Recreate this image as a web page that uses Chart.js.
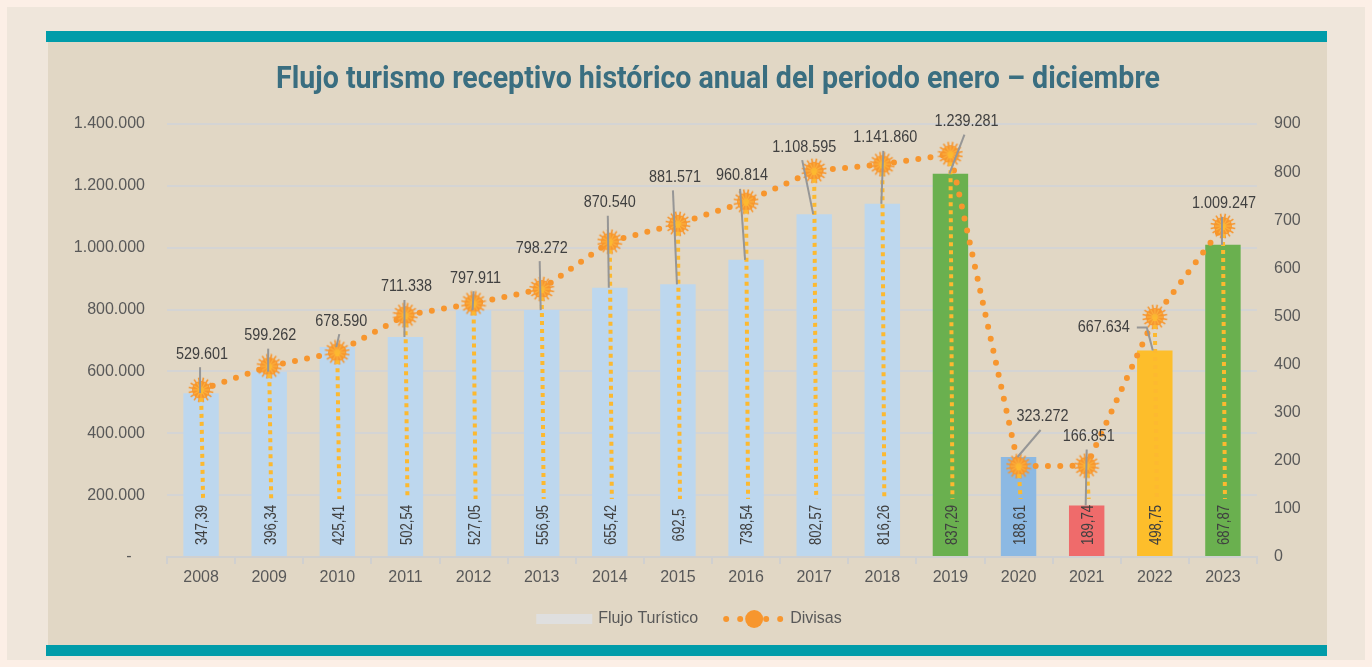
<!DOCTYPE html>
<html><head><meta charset="utf-8">
<script src="https://cdn.jsdelivr.net/npm/chart.js@4.4.1/dist/chart.umd.min.js"></script>
<style>html,body{margin:0;padding:0;background:#fcefe6;overflow:hidden}canvas{display:block}</style>
</head><body>
<canvas id="c" width="1372" height="667" style="width:1372px;height:667px"></canvas>
<script>
// ---- data ----
const years = ['2008','2009','2010','2011','2012','2013','2014','2015','2016','2017','2018','2019','2020','2021','2022','2023'];
const flujo = [529601, 599262, 678590, 711338, 797911, 798272, 870540, 881571, 960814, 1108595, 1141860, 1239281, 323272, 166851, 667634, 1009247];
const divisas = [347.39, 396.34, 425.41, 502.54, 527.05, 556.95, 655.42, 692.5, 738.54, 802.57, 816.26, 837.29, 188.61, 189.74, 498.75, 687.87];
const seriesNames = ['Flujo Turístico', 'Divisas'];
const chartTitle = 'Flujo turismo receptivo histórico anual del periodo enero – diciembre';

// ---- styles ----
const barColors = ['#bdd7ee','#bdd7ee','#bdd7ee','#bdd7ee','#bdd7ee','#bdd7ee','#bdd7ee','#bdd7ee','#bdd7ee','#bdd7ee','#bdd7ee','#6ab04f','#8cb9e3','#ef6b6b','#fdbe2b','#6ab04f'];
const labelOffsets = [[1,-39],[1,-36],[4,-26],[1,-50],[2,-32],[0,-62],[0,-85],[-3,-107],[-4,-84],[-10,-67],[3,-66],[16,-52],[24,-40],[2,-69],[-51,-23],[1,-41]];
const FONT = '"Liberation Sans", Arial, sans-serif';
const ORANGE = '#f7962e';

function fmtThousands(v){ return String(v).replace(/\B(?=(\d{3})+(?!\d))/g,'.'); }
function fmtDec(v){ return String(v).replace('.',','); }

function makeMarker(){
  const c = document.createElement('canvas'); c.width = 26; c.height = 26;
  const g = c.getContext('2d');
  g.translate(13,13);
  g.strokeStyle = ORANGE; g.lineWidth = 1.6;
  for (let i=0;i<16;i++){ const a=i*Math.PI/8+Math.PI/16; g.beginPath(); g.moveTo(0,0); g.lineTo(Math.cos(a)*12.5,Math.sin(a)*12.5); g.stroke(); }
  g.fillStyle = ORANGE; g.beginPath(); g.arc(0,0,9,0,Math.PI*2); g.fill();
  g.strokeStyle = '#fcb23e'; g.lineWidth = 1.2;
  for (let i=0;i<12;i++){ const a=i*Math.PI/6; g.beginPath(); g.moveTo(Math.cos(a)*2,Math.sin(a)*2); g.lineTo(Math.cos(a)*8,Math.sin(a)*8); g.stroke(); }
  g.fillStyle = '#fbb731'; g.beginPath(); g.arc(0,0,3,0,Math.PI*2); g.fill();
  return c;
}
const markerImg = makeMarker();

const deco = {
  id: 'deco',
  beforeDraw(chart){
    const ctx = chart.ctx; ctx.save();
    ctx.fillStyle = '#fcefe6'; ctx.fillRect(0,0,chart.width,chart.height);
    ctx.fillStyle = '#efe6db'; ctx.fillRect(7,7,chart.width-14,chart.height-14);
    ctx.fillStyle = '#e1d7c5'; ctx.fillRect(48,42,1279,603);
    ctx.fillStyle = '#009ca9'; ctx.fillRect(46,31,1281,11); ctx.fillRect(46,645,1281,11);
    ctx.restore();
  },
  afterDatasetsDraw(chart){
    const ctx = chart.ctx, x = chart.scales.x, y = chart.scales.y, y1 = chart.scales.y1;
    const base = y1.getPixelForValue(0);
    // Divisas leader lines and labels
    divisas.forEach((v,i)=>{
      const px = x.getPixelForValue(i), py = y1.getPixelForValue(v);
      const lx = px + 2, ly = base - 32;
      ctx.save();
      ctx.strokeStyle = '#fdb92f'; ctx.lineWidth = 4; ctx.setLineDash([4,4]);
      ctx.beginPath(); ctx.moveTo(px,py); ctx.lineTo(lx, ly-26); ctx.stroke();
      ctx.restore();
      ctx.save();
      ctx.translate(lx, ly); ctx.rotate(-Math.PI/2); ctx.scale(0.82,1);
      ctx.font = '16px ' + FONT; ctx.fillStyle = '#404040';
      ctx.textAlign = 'center'; ctx.textBaseline = 'middle';
      ctx.fillText(fmtDec(v), 0, 0);
      ctx.restore();
    });
    // Flujo labels with leader lines
    flujo.forEach((v,i)=>{
      const bx = x.getPixelForValue(i), by = y.getPixelForValue(v);
      const lx = bx + labelOffsets[i][0], ly = by + labelOffsets[i][1];
      const txt = fmtThousands(v);
      ctx.save();
      ctx.font = '16px ' + FONT;
      const w = ctx.measureText(txt).width * 0.9;
      ctx.strokeStyle = '#969696'; ctx.lineWidth = 2;
      if (Math.abs(labelOffsets[i][0]) > 30) {
        const sx = lx + w/2 + 7;
        ctx.beginPath(); ctx.moveTo(sx, ly); ctx.lineTo(bx-8, ly); ctx.lineTo(bx-2, by); ctx.stroke();
      } else if (by - (ly+13) > 6) {
        ctx.beginPath(); ctx.moveTo(lx-2, ly+13); ctx.lineTo(bx-1, by); ctx.stroke();
      }
      ctx.translate(lx, ly); ctx.scale(0.9,1);
      ctx.fillStyle = '#404040'; ctx.textAlign = 'center'; ctx.textBaseline = 'middle';
      ctx.fillText(txt, 0, 0);
      ctx.restore();
    });
  },
  afterDraw(chart){
    const ctx = chart.ctx;
    // title
    ctx.save();
    ctx.font = 'bold 32px Roboto, ' + FONT;
    const tw = ctx.measureText(chartTitle).width;
    const target = 884, s = target / tw;
    ctx.translate(718 - target/2, 88); ctx.scale(s,1);
    ctx.fillStyle = '#3a6e80'; ctx.textAlign = 'left'; ctx.textBaseline = 'alphabetic';
    ctx.fillText(chartTitle, 0, 0);
    ctx.restore();
    // legend
    ctx.save();
    ctx.font = '16px ' + FONT; ctx.textBaseline = 'middle'; ctx.textAlign = 'left';
    const w1 = ctx.measureText(seriesNames[0]).width, w2 = ctx.measureText(seriesNames[1]).width;
    const total = 56 + 6 + w1 + 28 + 56 + 8 + w2;
    let cx = 689 - total/2; const cy = 619;
    ctx.fillStyle = '#dfdfdf'; ctx.fillRect(cx, cy-5, 56, 10);
    ctx.fillStyle = '#595959'; ctx.fillText(seriesNames[0], cx+62, cy);
    cx += 62 + w1 + 28;
    ctx.fillStyle = ORANGE;
    [0,14,40,54].forEach(d=>{ ctx.beginPath(); ctx.arc(cx+d, cy, 3, 0, Math.PI*2); ctx.fill(); });
    ctx.beginPath(); ctx.arc(cx+28, cy, 9, 0, Math.PI*2); ctx.fill();
    ctx.fillStyle = '#595959'; ctx.fillText(seriesNames[1], cx+64, cy);
    ctx.restore();
  }
};

new Chart(document.getElementById('c'), {
  data: {
    labels: years,
    datasets: [
      { type:'line', label: seriesNames[1], data: divisas, yAxisID:'y1', order:0,
        borderColor: ORANGE, borderWidth: 6, borderDash:[0,12.3], borderCapStyle:'round',
        pointStyle: markerImg, pointRadius: 10, pointHoverRadius: 10, fill:false, tension:0 },
      { type:'bar', label: seriesNames[0], data: flujo, yAxisID:'y', order:1,
        backgroundColor: barColors, barPercentage: 0.52, categoryPercentage: 1 }
    ]
  },
  options: {
    responsive:false, animation:false, devicePixelRatio:1,
    layout:{ padding:{ top:124, left:0, right:0, bottom:0 } },
    plugins:{ legend:{display:false}, tooltip:{enabled:false}, title:{display:false} },
    scales:{
      x:{ type:'category', offset:true,
        grid:{ offset:true, drawOnChartArea:false, drawTicks:true, tickLength:7, color:'#d0d0d0', lineWidth:2 },
        border:{ display:true, color:'#d0d0d0', width:2 },
        ticks:{ color:'#595959', font:{ family: FONT, size:16 }, padding:4, maxRotation:0, autoSkip:false },
        afterFit(s){ s.height = 110; } },
      y:{ position:'left', min:0, max:1400000,
        grid:{ color:'#d4d4d4', lineWidth:2, drawTicks:false },
        border:{ display:false },
        ticks:{ stepSize:200000, padding:22, color:'#595959', font:{ family: FONT, size:16 },
          callback:(v)=> v===0 ? '-   ' : fmtThousands(v) },
        afterFit(s){ s.width = 167; } },
      y1:{ position:'right', min:0, max:900,
        grid:{ display:false, drawTicks:false },
        border:{ display:false },
        ticks:{ stepSize:100, padding:17, color:'#595959', font:{ family: FONT, size:16 } },
        afterFit(s){ s.width = 115; } }
    }
  },
  plugins:[deco]
});
</script>
</body></html>
